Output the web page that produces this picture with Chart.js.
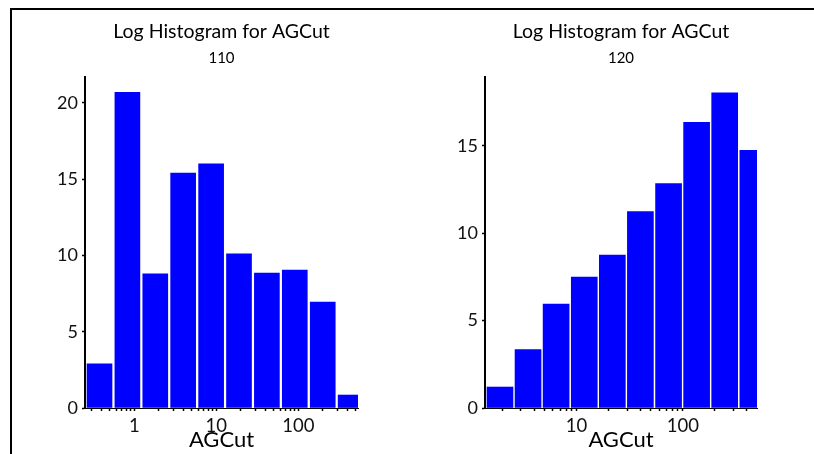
<!DOCTYPE html>
<html>
<head>
<meta charset="utf-8">
<script src="https://cdn.jsdelivr.net/npm/chart.js@4.4.1/dist/chart.umd.min.js"></script>
<style>
  html, body { margin: 0; padding: 0; background: #fff; }
  #page { position: relative; width: 814px; height: 454px; overflow: hidden; }
  #frame { position: absolute; left: 10px; top: 8px; width: 830px; height: 470px;
           border-top: 2px solid #000; border-left: 2px solid #000; }
  .panel { position: absolute; top: 0; width: 407px; height: 454px; }
</style>
</head>
<body>
<div id="page">
  <div id="frame"></div>
  <div class="panel" style="left:0"><canvas id="chart110" width="407" height="454"></canvas></div>
  <div class="panel" style="left:400px"><canvas id="chart120" width="407" height="454"></canvas></div>
</div>
<script>
// bar centres in log10(AGCut), one entry per histogram bin
const bins110 = [-0.424, -0.084, 0.256, 0.596, 0.937, 1.277, 1.617, 1.957, 2.298, 2.638];
const counts110 = [2.9, 20.7, 8.8, 15.4, 16.0, 10.1, 8.85, 9.05, 6.95, 0.85];
const bins120 = [0.280, 0.544, 0.808, 1.073, 1.337, 1.601, 1.866, 2.130, 2.394, 2.659];
const counts120 = [1.2, 3.35, 5.95, 7.5, 8.75, 11.25, 12.85, 16.35, 18.05, 14.75];

// labelled x ticks (AGCut values) and y ticks
const majorTicks = [1, 10, 100];
const yTicks110 = [0, 5, 10, 15, 20];
const yTicks120 = [0, 5, 10, 15];

Chart.defaults.font.family = 'Lato';
Chart.defaults.color = '#111';

// log minor ticks: 1..9 times each decade, kept inside the axis range
function logTicks(scale) {
  const ticks = [];
  for (let d = -2; d <= 3; d++) {
    for (let k = 1; k <= 9; k++) {
      const v = Math.log10(k) + d;
      if (v >= scale.min - 1e-6 && v <= scale.max + 1e-6) ticks.push({ value: v });
    }
  }
  scale.ticks = ticks;
}

function tickLabel(value) {
  const v = Math.pow(10, value);
  const hit = majorTicks.find(t => Math.abs(t - v) / t < 1e-6);
  return hit === undefined ? '' : String(hit);
}

// plot area is 85px in from the canvas left edge and plotWidth wide
function drawPanel(canvasId, subtitle, bins, counts, yTicks, xMin, xMax, yMax, thickness, plotWidth) {
  const ctx = document.getElementById(canvasId).getContext('2d');
  return new Chart(ctx, {
    type: 'bar',
    data: {
      datasets: [{
        data: bins.map((b, i) => ({ x: b, y: counts[i] })),
        backgroundColor: '#0000ff',
        borderWidth: 0,
        barThickness: thickness
      }]
    },
    options: {
      responsive: false,
      animation: false,
      layout: { padding: { left: 0, right: 407 - 85 - plotWidth, top: 0, bottom: 0 } },
      plugins: {
        legend: { display: false },
        tooltip: { enabled: false },
        title: {
          display: true,
          text: 'Log Histogram for AGCut',
          fullSize: false,
          color: '#000',
          font: { size: 19.5, weight: 'normal' },
          padding: { top: 20, bottom: 0 }
        },
        subtitle: {
          display: true,
          text: subtitle,
          fullSize: false,
          color: '#000',
          font: { size: 15, weight: 'normal' },
          padding: { top: 6, bottom: 9.6 }
        }
      },
      scales: {
        x: {
          type: 'linear',
          offset: false,
          min: xMin,
          max: xMax,
          afterBuildTicks: logTicks,
          afterFit: scale => { scale.height = 46; },
          grid: { offset: false, drawOnChartArea: false, drawTicks: true, tickLength: 3, tickWidth: 1.5, color: '#000' },
          border: { display: true, color: '#000', width: 1 },
          ticks: {
            autoSkip: false,
            maxRotation: 0,
            padding: 4,
            font: { size: 18.5 },
            callback: tickLabel
          },
          title: {
            display: true,
            text: 'AGCut',
            color: '#000',
            font: { size: 22 },
            padding: { top: 0, bottom: 1 }
          }
        },
        y: {
          min: 0,
          max: yMax,
          afterBuildTicks: scale => { scale.ticks = yTicks.map(v => ({ value: v })); },
          afterFit: scale => { scale.width = 85; },
          grid: { drawOnChartArea: false, drawTicks: true, tickLength: 3, tickWidth: 1.5, color: '#000' },
          border: { display: true, color: '#000', width: 2 },
          ticks: { padding: 4, font: { size: 18 } }
        }
      }
    }
  });
}

window.addEventListener('load', () => {
  drawPanel('chart110', '110', bins110, counts110, yTicks110, -0.601, 2.728, 21.7, 25, 273);
  drawPanel('chart120', '120', bins120, counts120, yTicks120, 0.139, 2.698, 18.95, 26, 272);
});
</script>
</body>
</html>
